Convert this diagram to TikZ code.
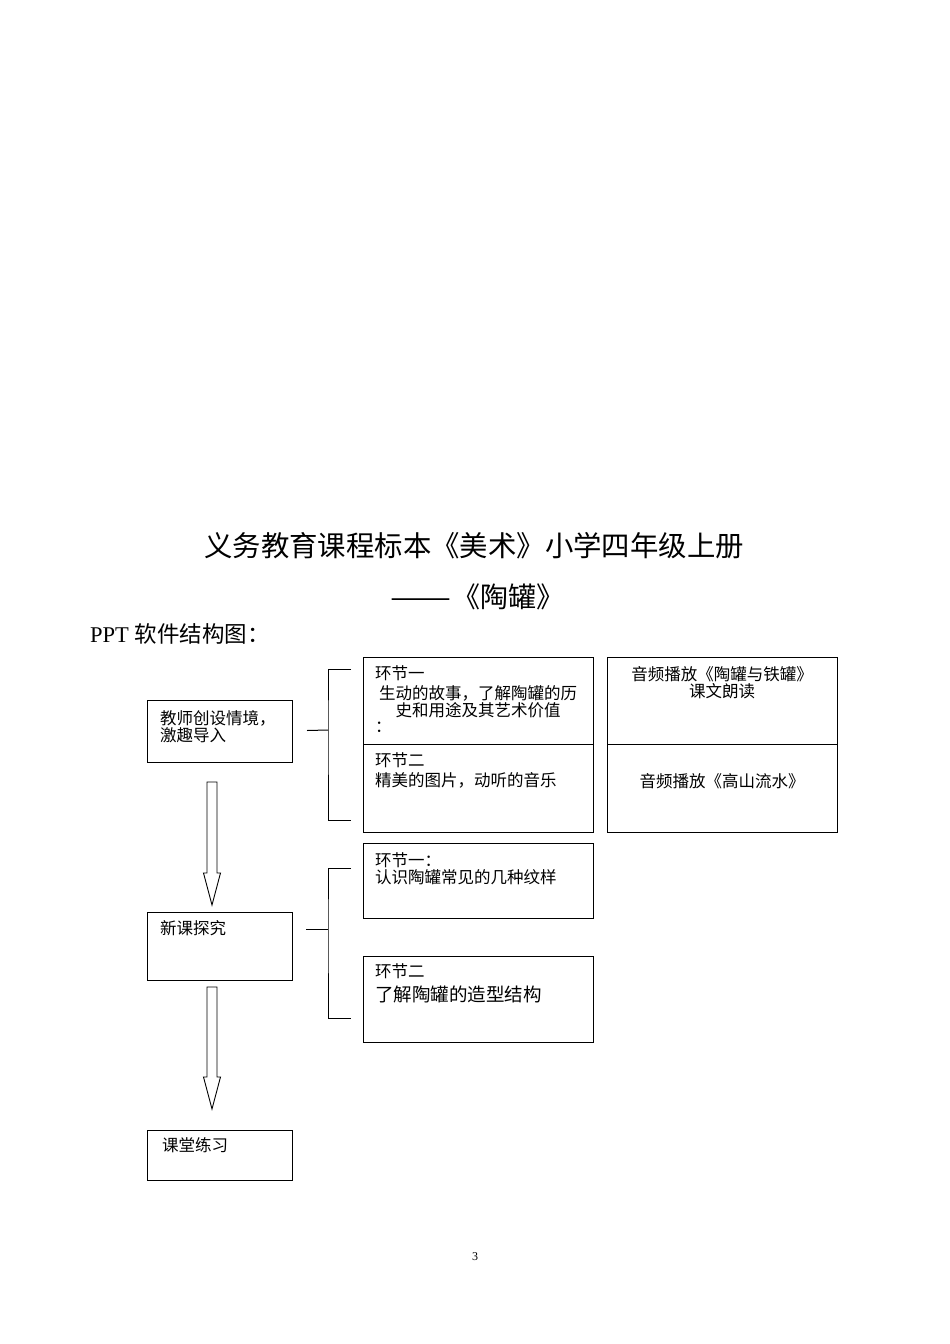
\documentclass[tikz,border=0pt]{standalone}
\usepackage{fontspec}
\usepackage{graphicx}
\setmainfont{Liberation Serif}
\newfontfamily\cjk{Noto Sans CJK SC}
\usetikzlibrary{calc,positioning}

% hollow down arrow from (#1) to tip (#2)
\newcommand{\fatarrow}[2]{%
  \draw[hollow] ($(#1)+(-5,0)$) -- ($(#2)+(-5,-32)$) -- ($(#2)+(-8.5,-32)$)
    -- (#2) -- ($(#2)+(8.5,-32)$) -- ($(#2)+(5,-32)$) -- ($(#1)+(5,0)$) -- cycle;}

\begin{document}
\begin{tikzpicture}[x=1pt, y=-1pt,
  box/.style={draw, line width=1pt, anchor=north west, inner sep=0pt},
  conn/.style={line width=1pt},
  hollow/.style={draw, line width=0.9pt, fill=white, line join=miter},
  txt/.style={anchor=west, inner sep=0pt, font=\cjk\fontsize{16.5}{17}\selectfont},
  ctxt/.style={align=center, inner sep=0pt, font=\cjk\fontsize{16.5}{17}\selectfont}]
  \useasboundingbox[fill=white] (0,0) rectangle (950,1344);

  % Heading
  \node[font=\cjk\fontsize{28.4}{30}\selectfont] (title) at (474,546)
    {义务教育课程标本《美术》小学四年级上册};
  \node[anchor=west, inner sep=0pt, font=\cjk\fontsize{28}{30}\selectfont] (subtitle) at (390,597)
    {\scalebox{1.3}[1]{——}\hspace{1pt}《陶罐》};
  \node[anchor=west, inner sep=0pt, font=\fontsize{22.5}{24}\selectfont] (ppt) at (90,634)
    {PPT {\cjk 软件结构图：}};

  % Main steps
  \node[box, minimum width=145, minimum height=62] (intro) at (147,700) {};
  \node[box, minimum width=145, minimum height=68] (explore) at (147,912) {};
  \node[box, minimum width=145, minimum height=50] (practice) at (147,1130) {};

  \node[txt] (introa) at (160,718) {教师创设情境，};
  \node[txt] (introb) at (160,735) {激趣导入};
  \node[txt] (exploret) at (160,928) {新课探究};
  \node[txt] (practicet) at (162,1145) {课堂练习};

  % Stage one boxes
  \node[box, minimum width=230, minimum height=87] (s1a) at (363,657) {};
  \node[box, minimum width=230, minimum height=88] (s1b) at (363,744) {};
  \node[box, minimum width=230, minimum height=87] (m1a) at (607,657) {};
  \node[box, minimum width=230, minimum height=88] (m1b) at (607,744) {};

  \node[txt] (s1ah) at (375,673) {环节一};
  \node[ctxt] (s1at) at (478,701.5) {生动的故事，了解陶罐的历\\史和用途及其艺术价值};
  \node[txt] (s1ac) at (375,727) {：};
  \node[txt] (s1bh) at (375,760) {环节二};
  \node[txt] (s1bt) at (375,780) {精美的图片，动听的音乐};
  \node[ctxt] (m1at) at (722,682.5) {音频播放《陶罐与铁罐》\\课文朗读};
  \node[ctxt] (m1bt) at (722,781) {音频播放《高山流水》};

  % Stage two boxes
  \node[box, minimum width=230, minimum height=75] (s2a) at (363,843) {};
  \node[box, minimum width=230, minimum height=86] (s2b) at (363,956) {};

  \node[txt] (s2ah) at (375,860) {环节一：};
  \node[txt] (s2at) at (375,877) {认识陶罐常见的几种纹样};
  \node[txt] (s2bh) at (375,971) {环节二};
  \node[txt, font=\cjk\fontsize{18.5}{20}\selectfont] (s2bt) at (375,994) {了解陶罐的造型结构};

  % Brackets
  \coordinate (br1) at (328,730);
  \coordinate (br1top) at (351,669);
  \coordinate (br1bot) at (351,820);
  \draw[conn] ($(intro.east)+(14,-1)$) -- (br1);
  \draw[conn] (br1top) -| (br1) |- (br1bot);

  \coordinate (br2) at (328,929);
  \coordinate (br2top) at (351,868);
  \coordinate (br2bot) at (351,1018);
  \draw[conn] (306,929) -- (br2);
  \draw[conn] (br2top) -| (br2) |- (br2bot);

  % Arrows
  \coordinate (arr1s) at (212,782);
  \coordinate (arr1e) at (212,905);
  \coordinate (arr2s) at (212,987);
  \coordinate (arr2e) at (212,1109);
  \fatarrow{arr1s}{arr1e}
  \fatarrow{arr2s}{arr2e}

  % Page number
  \node[font=\fontsize{12}{14}\selectfont] (page) at (475,1257) {3};
\end{tikzpicture}
\end{document}
